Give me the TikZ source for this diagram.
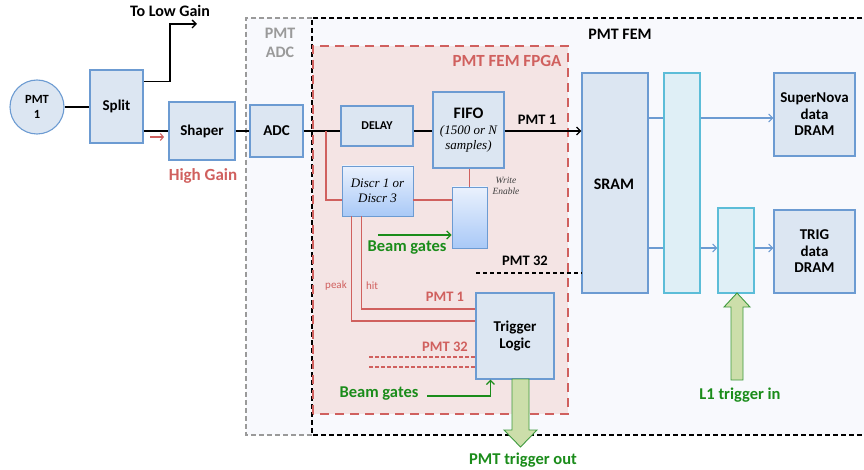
\documentclass[tikz,border=0pt]{standalone}
\usepackage{fontspec}
\setmainfont{Carlito}
\newfontfamily\serifit{Liberation Serif}
\usetikzlibrary{arrows.meta,calc}
\definecolor{boxfill}{HTML}{DCE6F2}
\definecolor{boxline}{HTML}{6C9BD2}
\definecolor{cyanline}{HTML}{5CBDD8}
\definecolor{cyanfill}{HTML}{DFEFF6}
\definecolor{redl}{HTML}{D0605E}
\definecolor{pinkfill}{HTML}{F4E4E4}
\definecolor{greent}{HTML}{1A8C1A}
\definecolor{garrowfill}{HTML}{CCDEAA}
\definecolor{garrowline}{HTML}{3E9A3E}
\definecolor{bgfill}{HTML}{F8F9FD}
\definecolor{grayd}{HTML}{9A9A9A}
\definecolor{gradtop}{HTML}{EAF1FD}
\definecolor{gradbot}{HTML}{A9C9F7}
\tikzset{
  blk/.style={draw=boxline, fill=boxfill, line width=1.1pt, inner sep=0pt, align=center, font=\fontsize{15}{16.5}\selectfont\bfseries},
  cyanblk/.style={draw=cyanline, fill=cyanfill, line width=1.1pt, inner sep=0pt},
  gradblk/.style={draw=boxline, top color=gradtop, bottom color=gradbot, line width=0.8pt, inner sep=0pt, align=center},
  sig/.style={line width=1.3pt, black},
  redline/.style={line width=1.4pt, redl},
  blueline/.style={line width=1.1pt, boxline},
  bluearrow/.style={blueline, -{Straight Barb[length=4pt,width=8pt]}},
  greenarrow/.style={line width=1.3pt, greent, -{Straight Barb[length=4pt,width=8pt]}},
  blockarrow/.style={draw=garrowline, fill=garrowfill, line width=0.9pt},
  lbl/.style={font=\fontsize{16}{17}\selectfont\bfseries, inner sep=0pt},
  redlbl/.style={lbl, text=redl},
  greenlbl/.style={font=\fontsize{16.5}{18}\selectfont\bfseries, text=greent, inner sep=0pt},
  smallred/.style={font=\fontsize{11}{12}\selectfont, text=redl, inner sep=0pt},
}
\begin{document}
\begin{tikzpicture}[x=1pt,y=-1pt]
\useasboundingbox (0,0) rectangle (864,470);
% regions
\fill[bgfill] (246,18) rectangle (870,435);
\draw[grayd, line width=1.3pt, dash pattern=on 5pt off 3pt] (312,18) -- (246,18) -- (246,435) -- (312,435);
\draw[black, line width=1.3pt, dash pattern=on 5pt off 3pt] (870,18) -- (312,18) -- (312,435) -- (870,435);
\fill[pinkfill] (313,46) rectangle (568,414);
\draw[redl, line width=2.2pt, dash pattern=on 9pt off 6pt] (313,414) -- (313,46) -- (568,46) -- (568,414) -- cycle;
\node[font=\fontsize{16}{19}\selectfont\bfseries, text=grayd, align=center, inner sep=0pt] (adclbl) at (280,43) {PMT\\ADC};
\node[lbl] (femlbl) at (620,34) {PMT FEM};
\node[redlbl, font=\fontsize{17}{18}\selectfont\bfseries] (fpgalbl) at (507,61) {PMT FEM FPGA};

% blocks
\node[blk, circle, minimum size=54pt, font=\fontsize{12.5}{15}\selectfont\bfseries] (pmt) at (37,107) {PMT\\1};
\node[blk, minimum width=53pt, minimum height=73pt] (split) at (116.5,106.5) {Split};
\node[blk, minimum width=66pt, minimum height=58pt] (shaper) at (202,131) {Shaper};
\node[blk, minimum width=53pt, minimum height=52pt] (adc) at (276.5,131) {ADC};
\node[blk, minimum width=72pt, minimum height=40pt, font=\fontsize{12}{13}\selectfont\bfseries] (delay) at (377,126) {DELAY};
\node[blk, minimum width=71pt, minimum height=76pt, font=\fontsize{13}{15}\selectfont] (fifo) at (468.5,130) {\bfseries\fontsize{16}{17}\selectfont FIFO\\[1pt]{\serifit\itshape (1500 or N}\\{\serifit\itshape samples)}};
\node[blk, minimum width=66pt, minimum height=220pt] (sram) at (615,183) {};
\node[lbl] (sramlbl) at (614,184) {SRAM};
\node[cyanblk, minimum width=36pt, minimum height=220pt] (cyana) at (682,183) {};
\node[blk, minimum width=81pt, minimum height=83pt] (snova) at (814.5,114.5) {SuperNova\\data\\DRAM};
\node[cyanblk, minimum width=36pt, minimum height=85pt] (cyanb) at (736,250.5) {};
\node[blk, minimum width=81pt, minimum height=83pt] (trig) at (814.5,251.5) {TRIG\\data\\DRAM};
\node[gradblk, minimum width=35pt, minimum height=61pt] (we) at (469.5,217.5) {};
\node[gradblk, minimum width=71pt, minimum height=50pt, font=\serifit\itshape\fontsize{13}{15}\selectfont] (discr) at (377.5,191) {Discr 1 or\\Discr 3};
\node[blk, minimum width=78pt, minimum height=86pt] (tlogic) at (515,336) {Trigger\\Logic};

% front end connectors
\draw[sig] (pmt.east) -- (split.west |- pmt.east);
\coordinate (lowgain) at (197,24);
\draw[sig, -{Straight Barb[length=4pt,width=8pt]}] ($(split.east)+(0,-25)$) -| (170,24) -- (lowgain);
\node[lbl] (lowlbl) at (170,11) {To Low Gain};
\draw[sig] (split.east |- shaper.west) -- (shaper.west);
\draw[redl, line width=1.1pt, -{Straight Barb[length=3pt,width=7pt]}] (150,137) -- (164,137);
\node[redlbl, font=\fontsize{17}{18}\selectfont\bfseries] (hglbl) at (203,176) {High Gain};
\draw[sig] (shaper.east) -- (adc.west);
\draw[sig] (adc.east) -- (adc.east -| delay.west);
\draw[sig] (delay.east |- adc.east) -- (fifo.west |- adc.east);
\draw[sig, -{Straight Barb[length=4pt,width=8pt]}] (fifo.east |- adc.east) -- (sram.west |- adc.east);
\node[lbl, font=\fontsize{14.5}{16}\selectfont\bfseries] (pmt1lbl) at (537,120) {PMT 1};

% discriminator and write enable
\coordinate (tap) at (326,131);
\draw[redline] (tap) |- ($(discr.west)+(0,9)$);
\draw[redline] ($(discr.east)+(0,9)$) -- ($(we.west)+(0,-17.5)$);
\draw[redline] (we.north |- fifo.south) -- (we.north);
\node[font=\serifit\itshape\fontsize{9.5}{11}\selectfont, align=center, text=black!75, inner sep=0pt] (welbl) at (506,186) {Write\\Enable};
\coordinate (bg1) at (378,235);
\draw[greenarrow] (bg1) -- (we.west |- bg1);
\node[greenlbl] (bg1lbl) at (407,248) {Beam gates};

% PMT 32 to SRAM
\node[lbl, font=\fontsize{14.5}{16}\selectfont\bfseries] (pmt32lbl) at (525,261) {PMT 32};
\coordinate (p32) at (476,273);
\draw[black, line width=1.3pt, dash pattern=on 4pt off 3pt] (p32) -- (sram.west |- p32);

% peak / hit
\draw[redline] ($(discr.south west)+(10,0)$) |- ($(tlogic.west)+(0,-15)$);
\draw[redline] ($(discr.south west)+(20,0)$) |- ($(tlogic.west)+(0,-27)$);
\node[smallred] (peaklbl) at (336,286) {peak};
\node[smallred] (hitlbl) at (372,286) {hit};
\node[redlbl, font=\fontsize{14.5}{16}\selectfont\bfseries] (rp1) at (445,297) {PMT 1};
\node[redlbl, font=\fontsize{14.5}{16}\selectfont\bfseries] (rp32) at (445,347) {PMT 32};
\coordinate (d1) at (369,357);
\coordinate (d2) at (369,367);
\draw[redl, line width=1.1pt, dash pattern=on 4pt off 2pt] (d1) -- (tlogic.west |- d1);
\draw[redl, line width=1.1pt, dash pattern=on 4pt off 2pt] (d2) -- (tlogic.west |- d2);
\coordinate (bg2) at (427,396);
\draw[greenarrow] (bg2) -| ($(tlogic.south west)+(15,0)$);
\node[greenlbl] (bg2lbl) at (379,394) {Beam gates};

% trigger out block arrow
\draw[blockarrow] (512,379) -- (529,379) -- (529,430) -- (537,430) -- (520.5,447) -- (504,430) -- (512,430) -- cycle;
\node[greenlbl] (tolbl) at (523,460) {PMT trigger out};

% FEM back-end connectors
\draw[blueline] (sram.east |- 0,118) -- (cyana.west |- 0,118);
\draw[bluearrow] (cyana.east |- 0,118) -- (snova.west |- 0,118);
\draw[blueline] (sram.east |- 0,248) -- (cyana.west |- 0,248);
\draw[bluearrow] (cyana.east |- 0,248) -- (cyanb.west |- 0,248);
\draw[bluearrow] (cyanb.east |- 0,248) -- (trig.west |- 0,248);

% L1 trigger in
\draw[blockarrow] (731,380) -- (743,380) -- (743,307) -- (750,307) -- (737,293) -- (724,307) -- (731,307) -- cycle;
\node[greenlbl] (l1lbl) at (740,395) {L1 trigger in};
\end{tikzpicture}
\end{document}
